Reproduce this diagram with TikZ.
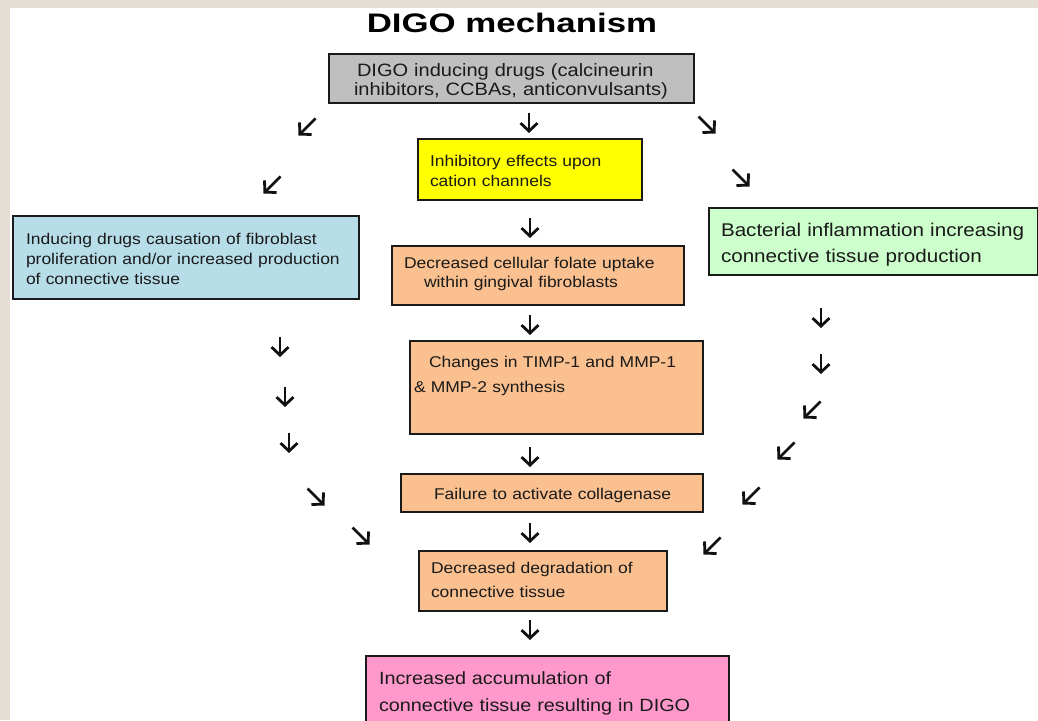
\documentclass[tikz,border=0pt]{standalone}
\usepackage{fontspec}
\setmainfont{Liberation Sans}
\newfontfamily\bodyfont[FakeStretch=1.12]{Liberation Sans}
\newfontfamily\headfont[FakeStretch=1.3]{Liberation Sans}
\usetikzlibrary{arrows.meta}
\definecolor{beige}{HTML}{E4DED4}
\definecolor{boxline}{HTML}{1A1A1A}
\definecolor{txt}{HTML}{1A1A1A}
\definecolor{arrowc}{HTML}{111111}
\definecolor{cgray}{HTML}{BFBFBF}
\definecolor{cyellow}{HTML}{FFFF00}
\definecolor{cblue}{HTML}{B7DDE8}
\definecolor{corange}{HTML}{FAC08F}
\definecolor{cgreen}{HTML}{CCFFCC}
\definecolor{cpink}{HTML}{FF99CC}
\newcommand{\ind}[1]{\hspace*{#1pt}}
\begin{document}
\begin{tikzpicture}[x=1pt,y=-1pt,
  box/.style={draw=boxline, line width=2pt, anchor=north west, inner xsep=4pt, inner ysep=0pt, align=left, text=txt},
  fs/.style={font=\bodyfont\fontsize{15.6}{#1}\selectfont},
  glyph/.style={line width=2.8pt, draw=arrowc, -{Straight Barb[length=8pt,width=17pt]}},
  pics/dn/.style={code={\draw[glyph] (0,-10) -- (0,10);}},
  pics/dl/.style={code={\draw[glyph] (8.5,-8.5) -- (-8.5,8.5);}},
  pics/dr/.style={code={\draw[glyph] (-8.5,-8.5) -- (8.5,8.5);}}
]
\useasboundingbox (0,0) rectangle (1038,720);
\clip (0,0) rectangle (1038,720);
\fill[beige] (0,0) rectangle (1038,720);
\fill[white] (10,8) rectangle (1038,720);

% title
\node[font=\headfont\bfseries\fontsize{26.8}{30}\selectfont, anchor=base, inner sep=0pt] (title) at (512,32) {DIGO mechanism};

% boxes
\node[box, fill=cgray, text width=357pt, text height=22pt, text depth=27pt,
      font=\bodyfont\fontsize{17.9}{19.5}\selectfont] (drugs) at (328,53)
  {\ind{24}DIGO inducing drugs (calcineurin\\\ind{21}inhibitors, CCBAs, anticonvulsants)};

\node[box, fill=cyellow, text width=216pt, text height=27pt, text depth=34pt, fs=20] (cation) at (417,138)
  {\ind{8}Inhibitory effects upon\\\ind{8}cation channels};

\node[box, fill=cblue, text width=338pt, text height=28pt, text depth=55pt, fs=20] (induce) at (12,215)
  {\ind{9}Inducing drugs causation of fibroblast\\\ind{9}proliferation and/or increased production\\\ind{9}of connective tissue};

\node[box, fill=corange, text width=284pt, text height=22pt, text depth=37pt, fs=19] (folate) at (391,245)
  {\ind{8}Decreased cellular folate uptake\\\ind{28}within gingival fibroblasts};

\node[box, fill=cgreen, text width=321pt, text height=28pt, text depth=39pt,
      font=\bodyfont\fontsize{18.4}{26}\selectfont] (bact) at (708,207)
  {\ind{8}Bacterial inflammation increasing\\\ind{8}connective tissue production};

\node[box, fill=corange, text width=285pt, text height=26pt, text depth=67pt, fs=25] (timp) at (409,340)
  {\ind{15}Changes in TIMP-1 and MMP-1\\\& MMP-2 synthesis};

\node[box, fill=corange, text width=294pt, text height=25pt, text depth=13pt, fs=20] (fail) at (400,473)
  {\ind{29}Failure to activate collagenase};

\node[box, fill=corange, text width=240pt, text height=22pt, text depth=38pt, fs=24] (degr) at (418,550)
  {\ind{8}Decreased degradation of\\\ind{8}connective tissue};

\node[box, fill=cpink, text width=355pt, text height=28pt, text depth=47pt,
      font=\bodyfont\fontsize{17.7}{27}\selectfont] (accum) at (365,655)
  {\ind{9}Increased accumulation of\\\ind{9}connective tissue resulting in DIGO};

% arrow glyphs
\pic at (307,127) {dl};
\pic at (529,123) {dn};
\pic at (707,125) {dr};
\pic at (272,185) {dl};
\pic at (741,178) {dr};
\pic at (530,228) {dn};
\pic at (530,325) {dn};
\pic at (530,457) {dn};
\pic at (530,533) {dn};
\pic at (530,630) {dn};
\pic at (280,347) {dn};
\pic at (285,397) {dn};
\pic at (289,443) {dn};
\pic at (316,497) {dr};
\pic at (361,536) {dr};
\pic at (821,318) {dn};
\pic at (821,364) {dn};
\pic at (812,410) {dl};
\pic at (786,451) {dl};
\pic at (751,496) {dl};
\pic at (712,546) {dl};
\end{tikzpicture}
\end{document}
